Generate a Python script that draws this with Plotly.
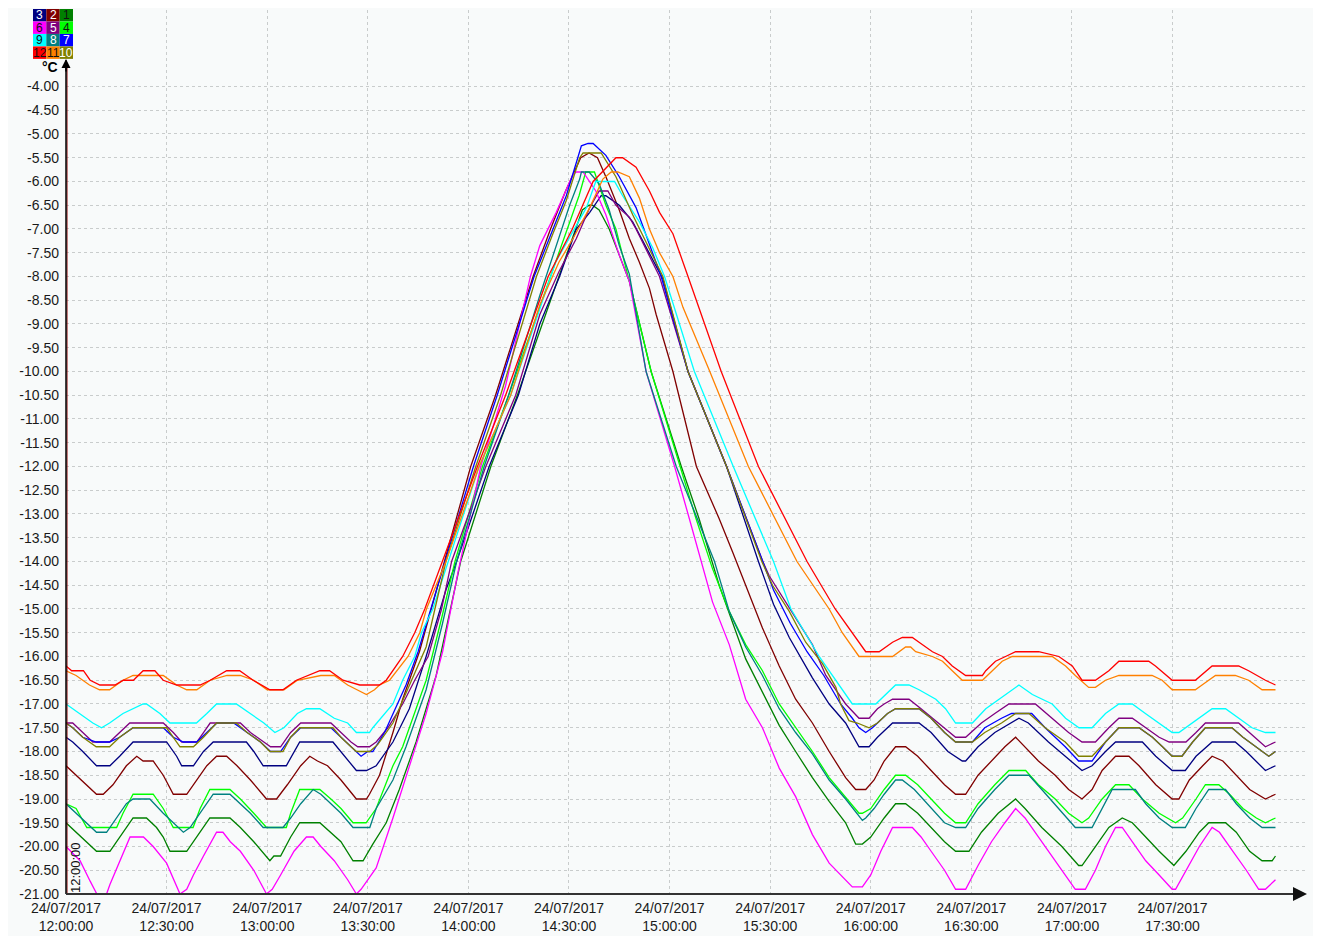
import plotly.graph_objects as go
import pandas as pd

# ---------------- data (minutes after 24/07/2017 12:00, value in °C) ----------------
DATE_LABEL = "24/07/2017"
START = "2017-07-24 12:00:00"
tick_times = ["12:00:00", "12:30:00", "13:00:00", "13:30:00", "14:00:00", "14:30:00",
              "15:00:00", "15:30:00", "16:00:00", "16:30:00", "17:00:00", "17:30:00"]
tick_minutes = [0, 30, 60, 90, 120, 150, 180, 210, 240, 270, 300, 330]
y_ticks = [-21.0, -20.5, -20.0, -19.5, -19.0, -18.5, -18.0, -17.5, -17.0, -16.5, -16.0,
           -15.5, -15.0, -14.5, -14.0, -13.5, -13.0, -12.5, -12.0, -11.5, -11.0, -10.5,
           -10.0, -9.5, -9.0, -8.5, -8.0, -7.5, -7.0, -6.5, -6.0, -5.5, -5.0, -4.5, -4.0]

s1 = [(0, -19.5), (3, -19.7), (6, -19.9), (9.1, -20.1), (13.1, -20.1), (16, -19.8), (20, -19.4), (24, -19.4),
      (27, -19.6), (29, -19.8), (31, -20.1), (36, -20.1), (39, -19.8), (42.9, -19.4), (48.9, -19.4), (52, -19.6),
      (56, -19.9), (60.8, -20.3), (62, -20.2), (64, -20.2), (67, -19.8), (69.7, -19.5), (75.7, -19.5), (79, -19.7),
      (82, -19.9), (85.6, -20.3), (88.6, -20.3),
      (91.5, -19.95), (95.5, -19.5), (99.4, -18.8), (104.4, -17.8), (110.4, -16.4), (117.7, -14.0), (126.7, -12.0),
      (134.6, -10.5), (147, -8.0), (152, -7.0), (154, -6.6), (156, -6.5), (157, -6.5),
      (159, -6.6), (162, -7.0), (165, -7.55), (168, -8.1), (174.5, -10.0), (183.5, -12.0), (188.8, -13.1),
      (194.8, -14.5), (202.7, -16.05), (207.7, -16.75), (212.7, -17.45), (217.6, -18.0), (222.6, -18.55),
      (227.6, -19.05), (232.5, -19.5), (235.5, -19.95), (237.5, -19.95),
      (240, -19.8), (244, -19.4), (247.4, -19.1), (250.4, -19.1), (254, -19.3), (258, -19.6), (262, -19.9),
      (265.3, -20.1), (269.3, -20.1), (273, -19.7), (278, -19.3), (283.2, -19.0), (286, -19.2), (291, -19.6),
      (297, -20.0), (302, -20.4), (303, -20.4), (307, -20.0), (311, -19.6), (315, -19.4), (318, -19.5),
      (322, -19.8), (326, -20.1), (330.4, -20.4), (334, -20.1), (338, -19.7), (340.8, -19.5), (345.8, -19.5),
      (349, -19.7), (353, -20.1), (356.7, -20.3), (359.7, -20.3), (360.7, -20.2)]

s2 = [(0, -18.3), (3, -18.5), (6, -18.7), (9.1, -18.9), (11.1, -18.9), (14, -18.7), (18, -18.3), (21.1, -18.1),
      (23, -18.2), (26, -18.2), (29, -18.5), (32, -18.9), (36, -18.9), (39, -18.6), (42, -18.3), (44.9, -18.1),
      (47.9, -18.1), (51, -18.3), (55, -18.6), (59.8, -19.0), (62.8, -19.0), (66, -18.7), (70, -18.3),
      (72.7, -18.1), (75, -18.2), (78, -18.3), (82, -18.6), (86.6, -19.0), (89.6, -19.0),
      (90.5, -18.9), (93.5, -18.5), (97.5, -17.6), (100.4, -16.9), (105.4, -15.9), (112.8, -14.0),
      (120.7, -12.0), (128.1, -10.5), (139.3, -8.0), (144.5, -7.0), (149, -6.2), (153.5, -5.5), (156, -5.4),
      (158.5, -5.5),
      (161, -5.9), (165, -6.6), (168, -7.2), (171, -7.7), (174, -8.25), (176, -8.8), (181, -10.0), (188, -12.0),
      (194.8, -13.1), (198.8, -13.8), (202.7, -14.5), (207.7, -15.4), (212.7, -16.2), (217.6, -16.9),
      (222.6, -17.4), (227.6, -18.0), (232.5, -18.55), (235.5, -18.8), (238.5, -18.8),
      (241, -18.6), (244, -18.2), (247.4, -17.9), (250.4, -17.9), (254, -18.1), (258, -18.4), (262, -18.7),
      (265.3, -18.9), (268.3, -18.9), (272, -18.5), (276, -18.2), (280, -17.9), (283.2, -17.7), (286, -17.9),
      (290, -18.2), (295, -18.5), (299, -18.8), (303, -19.0), (306, -18.8), (309, -18.4), (313, -18.1),
      (317, -18.1), (320, -18.3), (325, -18.7), (329.9, -19.0), (331.9, -19.0), (335, -18.6), (339, -18.3),
      (341.8, -18.1), (345, -18.2), (349, -18.5), (353, -18.8), (357.7, -19.0), (360.7, -18.9)]

s3 = [(0, -17.7), (2, -17.8), (5, -18.0), (9.1, -18.3), (13.1, -18.3), (16, -18.1), (20, -17.8), (30, -17.8),
      (33, -18.1), (34.5, -18.3), (38, -18.3), (41, -18.0), (43.9, -17.8), (53.8, -17.8), (56, -18.0),
      (58.8, -18.3), (65.7, -18.3), (68, -18.0), (69.7, -17.8), (79.6, -17.8), (83, -18.1), (86.6, -18.4),
      (89.6, -18.4),
      (92.5, -18.3), (97.5, -17.8), (102.4, -17.1), (107.4, -16.0), (113.3, -14.6), (116.5, -14.0),
      (126.2, -12.0), (134.9, -10.5), (141.3, -9.0), (147.2, -8.0), (152.2, -7.0), (156.2, -6.65),
      (159.6, -6.3), (161, -6.3),
      (165, -6.5), (169, -6.85), (174, -7.5), (178, -8.05), (185.5, -10.0), (197, -12.0), (206.5, -14.0),
      (211, -14.9), (215.7, -15.6), (222.6, -16.45), (227.6, -17.0), (232.5, -17.4), (236.5, -17.9),
      (239.5, -17.9),
      (242, -17.7), (246.5, -17.4), (254.4, -17.4), (258, -17.6), (263, -18.0), (267.3, -18.2), (268.3, -18.2),
      (272, -17.9), (277, -17.6), (284.2, -17.3), (287, -17.4), (293, -17.8), (298, -18.1), (303, -18.4),
      (306, -18.3), (310, -18.0), (313, -17.8), (321, -17.8), (325, -18.1), (329.9, -18.4), (333.8, -18.4),
      (337, -18.1), (341.8, -17.8), (348.7, -17.8), (352, -18.0), (357.7, -18.4), (360.7, -18.3)]

s4 = [(0, -19.1), (3, -19.2), (6.2, -19.6), (15.1, -19.6), (17, -19.3), (20, -18.9), (26, -18.9), (29, -19.2),
      (32, -19.6), (37.9, -19.6), (40, -19.2), (42.9, -18.8), (48.9, -18.8), (52, -19.0), (56, -19.3),
      (59.8, -19.6), (65.7, -19.6), (67, -19.3), (69.7, -18.8), (75.7, -18.8), (79, -19.0), (82, -19.2),
      (85.6, -19.5), (89.5, -19.5),
      (92.5, -19.2), (97.5, -18.3), (100.4, -17.9), (107.4, -16.5), (112, -15.2), (116, -14.0), (124.2, -12.0),
      (132, -10.5), (144.5, -8.0), (149.5, -7.0), (153, -6.3), (155, -5.8), (157.6, -5.8),
      (161, -6.5), (164, -7.0), (166, -7.55), (168, -8.1), (174.5, -10.0), (183, -12.0), (187.9, -13.1),
      (192.8, -14.15), (197.8, -15.05), (202.7, -15.75), (207.7, -16.3), (212.7, -17.0), (217.6, -17.5),
      (222.6, -18.0), (227.6, -18.55), (232.5, -18.95), (236.5, -19.3), (237.5, -19.3),
      (240, -19.2), (244, -18.8), (247.4, -18.5), (250.4, -18.5), (254, -18.7), (258, -19.0), (262, -19.3),
      (265.3, -19.5), (268.3, -19.5), (272, -19.1), (277, -18.7), (281.2, -18.4), (286.2, -18.4), (290, -18.7),
      (295, -19.0), (299, -19.3), (303, -19.5), (305, -19.4), (309, -19.0), (313, -18.7), (317, -18.7),
      (321, -19.0), (326, -19.3), (330.9, -19.5), (333, -19.4), (337, -19.0), (339.8, -18.7), (343.8, -18.7),
      (347, -18.9), (351, -19.2), (355, -19.4), (357.7, -19.5), (360.7, -19.4)]

s5 = [(0, -17.4), (2, -17.4), (5, -17.6), (8, -17.8), (13, -17.8), (16, -17.6), (19, -17.4), (29, -17.4),
      (32, -17.6), (34.5, -17.8), (39, -17.8), (41, -17.6), (43, -17.4), (52, -17.4), (55, -17.6), (59, -17.8),
      (61, -17.9), (64, -17.9), (67, -17.6), (70, -17.4), (79, -17.4), (82, -17.6), (85, -17.8), (87, -17.9),
      (90.5, -17.9),
      (92.5, -17.8), (96, -17.5), (100.4, -17.0), (104, -16.5), (108, -16.0), (112, -15.0), (115, -14.0),
      (125.2, -12.0), (134.1, -10.5), (141.3, -8.8), (147, -7.9), (152.2, -7.2), (156.2, -6.55), (159, -6.2),
      (161.6, -6.2),
      (164, -6.5), (168, -6.75), (170, -7.0), (177, -8.0), (185.5, -10.0), (197, -12.0), (207.8, -14.0),
      (209.7, -14.3), (217.6, -15.2), (222.6, -15.75), (226.6, -16.4), (232.5, -17.0), (236.5, -17.3),
      (239.5, -17.3),
      (242, -17.1), (244, -17.0), (246.5, -16.9), (251.4, -16.9), (255, -17.1), (260, -17.4), (265.3, -17.7),
      (268.3, -17.7), (273, -17.4), (277, -17.2), (281.2, -17.0), (289.1, -17.0), (294, -17.3), (299, -17.6),
      (303, -17.8), (307, -17.8), (311, -17.5), (314, -17.3), (318, -17.3), (322, -17.5), (326, -17.7),
      (329, -17.8), (334, -17.8), (337, -17.6), (339.8, -17.4), (349.7, -17.4), (353, -17.6), (357.7, -17.9),
      (360.7, -17.8)]

s6 = [(0, -20.0), (4.2, -20.3), (7.2, -20.73), (9.2, -21.0), (10.6, -21.1), (12.1, -21.0), (13.1, -20.8),
      (16.1, -20.3), (19.1, -19.8), (23.1, -19.8), (26, -20.0), (30, -20.35), (34, -21.0), (36, -20.9),
      (38, -20.6), (41, -20.2), (44.9, -19.7), (46.8, -19.7), (49, -19.9), (52, -20.1), (56, -20.5),
      (59.8, -21.0), (61.5, -20.9), (64, -20.6), (68, -20.1), (71.7, -19.8), (73.7, -19.8), (76, -20.0),
      (80, -20.3), (84, -20.7), (86.6, -21.0), (88, -20.9), (90.5, -20.65),
      (92.5, -20.45), (97.5, -19.4), (102.4, -18.3), (107.4, -17.2), (112.3, -15.9), (117, -14.2),
      (123.7, -12.0), (131.1, -10.3), (138.5, -8.0), (141.3, -7.35), (146.2, -6.65), (151.2, -5.85),
      (152.2, -5.8), (154.2, -5.8),
      (158, -6.2), (161, -6.7), (165, -7.55), (168, -8.1), (173, -10.0), (181.5, -12.0), (185.9, -13.1),
      (189.4, -14.0), (192.8, -14.85), (197.8, -15.75), (202.7, -16.9), (207.7, -17.5), (212.7, -18.35),
      (217.6, -18.95), (222.6, -19.75), (227.6, -20.35), (234.5, -20.85), (237.5, -20.85),
      (240, -20.6), (243, -20.1), (246.5, -19.6), (252.4, -19.6), (255, -19.8), (258, -20.1), (262, -20.5),
      (265.3, -20.9), (268.3, -20.9), (272, -20.4), (276, -19.9), (280, -19.5), (283.2, -19.2), (286, -19.4),
      (290, -19.8), (295, -20.3), (301, -20.9), (304, -20.9), (307, -20.5), (310, -20.0), (313, -19.6),
      (315, -19.6), (318, -19.9), (322, -20.3), (326, -20.6), (329.9, -20.9), (330.9, -20.9), (334, -20.5),
      (338, -20.0), (341.8, -19.6), (344, -19.7), (348, -20.1), (352, -20.5), (355.7, -20.9), (357.7, -20.9),
      (360.7, -20.7)]

s7 = [(0, -17.4), (2, -17.5), (5, -17.7), (9, -17.8), (13, -17.8), (16, -17.7), (20, -17.5), (29, -17.5),
      (32, -17.7), (35, -17.8), (39, -17.8), (42, -17.6), (45, -17.4), (50, -17.4), (54, -17.6), (58, -17.8),
      (61, -18.0), (64, -18.0), (67, -17.7), (70, -17.5), (79, -17.5), (82, -17.7), (85, -17.9), (88, -18.1),
      (90, -18.0), (91.5, -18.0),
      (95, -17.6), (101.4, -16.6), (105, -15.9), (113, -14.0), (121.5, -12.0), (128.6, -10.5), (139.6, -8.0),
      (141.3, -7.7), (145.2, -7.0), (149.2, -6.3), (152.2, -5.6), (153.7, -5.25), (155.7, -5.2), (157.2, -5.2),
      (161, -5.45), (165, -5.9), (170, -6.55), (174, -7.3), (177.5, -8.0), (185.5, -10.0), (197, -12.0),
      (207.8, -14.0), (211, -14.6), (216, -15.3), (221, -15.9), (226, -16.4), (231, -17.0), (234.5, -17.3),
      (236.5, -17.5), (238.5, -17.6), (240.5, -17.5),
      (242, -17.4), (245, -17.2), (247.4, -17.1), (254.4, -17.1), (258, -17.3), (262, -17.6), (265.3, -17.8),
      (270.3, -17.8), (274, -17.5), (279, -17.3), (282, -17.2), (288, -17.2), (292, -17.5), (298, -17.9),
      (302, -18.2), (306, -18.2), (310, -17.8), (314, -17.5), (320, -17.5), (324, -17.7), (327, -17.9),
      (329.9, -18.1), (332.8, -18.1), (336, -17.8), (339.8, -17.5), (347.7, -17.5), (351, -17.7), (355, -17.9),
      (358.7, -18.1), (360.7, -18.0)]

s8 = [(0, -19.1), (3, -19.3), (6, -19.5), (9.1, -19.7), (12.1, -19.7), (15, -19.4), (18, -19.1), (20, -19.0),
      (25, -19.0), (29, -19.3), (32, -19.5), (35, -19.7), (37, -19.6), (40, -19.3), (43.9, -18.9), (48.9, -18.9),
      (52, -19.1), (55, -19.3), (58.8, -19.6), (64.7, -19.6), (67, -19.4), (70, -19.1), (73.7, -18.8),
      (76, -18.9), (79, -19.1), (82, -19.3), (85.6, -19.6), (90.6, -19.6),
      (92.5, -19.2), (97.5, -18.6), (101.4, -17.9), (107.4, -16.7), (112.3, -15.3), (116.5, -14.0),
      (124.7, -12.0), (132, -10.5), (141.3, -8.4), (146.2, -7.35), (150.2, -6.5), (153.2, -5.95),
      (153.7, -5.8), (156, -5.8),
      (159, -6.05), (162, -6.6), (165, -7.35), (168, -7.95), (170, -8.8), (173, -10.0), (182, -12.0),
      (193.4, -14.0), (197.8, -15.05), (202.7, -15.8), (207.7, -16.4), (212.7, -17.1), (217.6, -17.6),
      (222.6, -18.05), (227.6, -18.6), (232.5, -19.0), (237.5, -19.45), (238.5, -19.4),
      (241, -19.2), (244, -18.9), (247.4, -18.6), (249.4, -18.6), (253, -18.8), (258, -19.2), (262, -19.5),
      (265.3, -19.6), (268.3, -19.6), (272, -19.2), (277, -18.8), (281.2, -18.5), (287.2, -18.5), (291, -18.8),
      (296, -19.2), (301, -19.6), (306, -19.6), (309, -19.2), (312, -18.8), (318.9, -18.8), (322, -19.1),
      (326, -19.4), (329.9, -19.6), (333.8, -19.6), (337, -19.2), (340.8, -18.8), (345.8, -18.8), (349, -19.1),
      (353, -19.4), (356.7, -19.6), (360.7, -19.6)]

s9 = [(0, -17.0), (4, -17.2), (8, -17.4), (10.6, -17.5), (13, -17.4), (17, -17.2), (20, -17.1), (23, -17.0),
      (24, -17.0), (28, -17.2), (31, -17.4), (38.9, -17.4), (42, -17.2), (44.9, -17.0), (50.8, -17.0),
      (55, -17.2), (59, -17.4), (62.3, -17.6), (65, -17.5), (69, -17.2), (71.7, -17.1), (75.7, -17.1),
      (80, -17.3), (84, -17.4), (86.6, -17.6), (90.5, -17.6),
      (91.5, -17.5), (97.5, -17.0), (100.4, -16.5), (104, -16.0), (106, -15.5), (109.4, -15.0), (114, -14.0),
      (123.2, -12.0), (132.6, -10.5), (144.6, -8.0), (146, -7.7), (151.2, -7.05), (155.2, -6.55), (158, -6.0),
      (163.6, -6.0),
      (166, -6.3), (171, -6.85), (175, -7.4), (178.5, -8.0), (187.4, -10.0), (199, -12.0), (211, -14.0),
      (216.2, -15.0), (224.6, -16.0), (229.6, -16.5), (234.5, -17.0),
      (241.5, -17.0), (244.5, -16.8), (247.4, -16.6), (251.4, -16.6), (254.4, -16.7), (259.4, -16.9),
      (262.3, -17.1), (265.3, -17.4), (270.3, -17.4), (274.3, -17.1), (278.2, -16.9), (284.2, -16.6),
      (288.2, -16.8), (294.1, -17.0), (298.1, -17.3), (302.1, -17.5), (306, -17.5), (310, -17.2), (314, -17.0),
      (318, -17.0), (321.9, -17.2), (325.9, -17.4), (329.9, -17.6), (331.9, -17.6), (335.8, -17.4),
      (341.8, -17.1), (345.8, -17.1), (349.7, -17.3), (353.7, -17.5), (357.7, -17.6), (360.7, -17.6)]

s10 = [(0, -17.4), (2, -17.5), (5, -17.7), (9, -17.9), (13, -17.9), (16, -17.7), (20, -17.5), (30, -17.5),
       (32, -17.7), (34, -17.9), (38, -17.9), (41, -17.7), (44.9, -17.4), (50.8, -17.4), (54, -17.6),
       (58, -17.8), (60.8, -18.0), (64.7, -18.0), (67, -17.7), (69.7, -17.5), (79.6, -17.5), (82, -17.7),
       (85, -17.9), (86.6, -18.0), (90.6, -18.0),
       (93, -17.85), (97.5, -17.4), (102.4, -16.6), (107.4, -15.8), (113.3, -14.0), (122.2, -12.0),
       (129.6, -10.5), (140.3, -8.0), (145.2, -7.1), (149.2, -6.4), (153.2, -5.5), (154.2, -5.4), (159.6, -5.4),
       (164, -5.9), (169, -6.7), (175, -7.55), (178, -8.0), (185.5, -10.0), (197, -12.0), (207.5, -14.0),
       (210.7, -14.5), (215.7, -15.05), (220.6, -15.7), (225.6, -16.15), (229.6, -16.65), (231, -17.0),
       (233.5, -17.35), (236, -17.4), (239.5, -17.5),
       (242, -17.4), (245, -17.2), (247.4, -17.1), (254.4, -17.1), (258, -17.3), (262, -17.6), (265.3, -17.8),
       (270.3, -17.8), (274, -17.6), (279, -17.4), (283.2, -17.2), (287.2, -17.2), (292, -17.5), (298, -17.8),
       (302, -18.1), (306, -18.1), (310, -17.8), (314, -17.5), (320, -17.5), (324, -17.7), (327, -17.9),
       (329.9, -18.1), (332.8, -18.1), (336, -17.8), (339.8, -17.5), (347.7, -17.5), (351, -17.7),
       (355, -17.9), (358.7, -18.1), (360.7, -18.0)]

s11 = [(0, -16.3), (3, -16.4), (7, -16.6), (10, -16.7), (13, -16.7), (17, -16.5), (20, -16.4), (29, -16.4),
       (33, -16.6), (36, -16.7), (39, -16.7), (43, -16.5), (48, -16.4), (52, -16.4), (56, -16.5), (60, -16.7),
       (65, -16.7), (69, -16.5), (76, -16.4), (80, -16.4), (84, -16.6), (89.6, -16.8), (92, -16.7),
       (93.5, -16.6), (96.5, -16.5),
       (102, -16.0), (105.5, -15.5), (107.5, -15.0), (113.3, -14.0), (123.2, -12.0), (132.6, -10.5),
       (141.3, -8.6), (147, -7.7), (151.2, -7.2), (156.2, -6.55), (160.1, -5.95), (162.6, -5.8), (164.6, -5.8),
       (168, -5.9), (171, -6.35), (174, -7.0), (177, -7.5), (181, -8.0), (184, -8.65), (192, -10.0),
       (203.5, -12.0), (218, -14.0), (227.6, -15.0), (231.5, -15.5), (236.5, -16.0),
       (246.5, -16.0), (248.4, -15.9), (250.4, -15.8), (251.9, -15.8), (253.4, -15.9), (258.4, -16.0),
       (261.4, -16.1), (264.3, -16.3), (267.3, -16.5), (273.3, -16.5), (276.2, -16.3), (279.2, -16.1),
       (282.2, -16.0), (294.1, -16.0), (298.1, -16.2), (301, -16.4), (305, -16.65), (307, -16.65), (310, -16.5),
       (314, -16.4), (323.9, -16.4), (326.9, -16.5), (329.9, -16.7), (336.8, -16.7), (338.8, -16.6),
       (342.8, -16.4), (348.7, -16.4), (352.7, -16.5), (356.7, -16.7), (360.7, -16.7)]

s12 = [(0, -16.2), (1.7, -16.3), (5.2, -16.3), (7.2, -16.5), (10.1, -16.6), (14.6, -16.6), (17.1, -16.5),
       (20.1, -16.5), (23, -16.3), (26.5, -16.3), (29, -16.5), (33, -16.6), (40, -16.6), (43, -16.5),
       (47.9, -16.3), (51.8, -16.3), (55.8, -16.5), (60.8, -16.7), (64.7, -16.7), (68.7, -16.5), (75.7, -16.3),
       (78.6, -16.3), (82.6, -16.5), (87.6, -16.6), (93.5, -16.6), (95.5, -16.5),
       (100.4, -16.0), (104, -15.5), (107, -15.0), (112.3, -14.0), (122.7, -12.0), (131.1, -10.5),
       (143.8, -8.0), (151, -7.0), (154.2, -6.5), (157.2, -6.0), (164, -5.5), (166, -5.5),
       (170, -5.7), (174, -6.2), (177, -6.65), (181, -7.1), (185.5, -8.0), (195.4, -10.0), (206.5, -12.0),
       (221, -14.0), (229.4, -15.0), (234.4, -15.5), (238.5, -15.9), (242.5, -15.9),
       (246.5, -15.7), (249.4, -15.6), (252.4, -15.6), (254.4, -15.7), (258.4, -15.9), (261.4, -16.0),
       (264.3, -16.2), (268.3, -16.4), (273.3, -16.4), (274.3, -16.3), (277.2, -16.1), (280.2, -16.0),
       (283.2, -15.9), (290.1, -15.9), (296.1, -16.0), (300.1, -16.2), (303, -16.5), (307, -16.5), (311, -16.3),
       (314, -16.1), (322.9, -16.1), (324.9, -16.2), (329.9, -16.5), (336.8, -16.5), (341.8, -16.2),
       (349.7, -16.2), (352.7, -16.3), (357.7, -16.5), (360.7, -16.6)]

series_names = ["1", "2", "3", "4", "5", "6", "7", "8", "9", "10", "11", "12"]
series_colors = ["#008000", "#800000", "#000080", "#00ff00", "#800080", "#ff00ff",
                 "#0000ff", "#008080", "#00ffff", "#808000", "#ff8000", "#ff0000"]
series_data = [s1, s2, s3, s4, s5, s6, s7, s8, s9, s10, s11, s12]

# ---------------- layout geometry (reference pixel positions) ----------------
PAGE_OFF = 8                                 # browser default body margin
W, H = 1321 - PAGE_OFF, 936 - PAGE_OFF
PL, PR, PT, PB = 66, 1307, 10, 896           # plot area in page pixels
X_SPAN_MIN = 370.1                           # minutes covered by the plot width
Y_MIN, Y_MAX = -21.0, -2.39
FONT = "Arial, Liberation Sans, sans-serif"
BG = "#f8fafa"

base = pd.Timestamp(START)


def tmin(m):
    return base + pd.Timedelta(minutes=m)


def fx(px):
    return (px - PL) / (PR - PL)


def fy(py):
    return (PB - py) / (PB - PT)


fig = go.Figure()
for name, color, pts in zip(series_names, series_colors, series_data):
    fig.add_trace(go.Scatter(
        x=[tmin(p[0]) for p in pts], y=[p[1] for p in pts],
        mode="lines", name=name, showlegend=False,
        line=dict(color=color, width=1.3), hoverinfo="skip"))

shapes = []
annotations = []

# cursor line at 12:00 (dark red)
shapes.append(dict(type="line", xref="paper", yref="y", x0=fx(67), x1=fx(67), y0=Y_MIN, y1=-3.5,
                   line=dict(color="#8b0000", width=1)))
# y axis line + arrow
shapes.append(dict(type="line", xref="paper", yref="y", x0=0, x1=0, y0=Y_MIN, y1=-3.45,
                   line=dict(color="#000000", width=1.5)))
annotations.append(dict(xref="paper", yref="y", x=0, y=-3.42, ax=0, ay=14, text="",
                        showarrow=True, arrowhead=2, arrowsize=1.2, arrowwidth=1.5, arrowcolor="#000000"))
# x axis line + arrow
shapes.append(dict(type="line", xref="paper", yref="paper", x0=0, x1=fx(1300), y0=0, y1=0,
                   line=dict(color="#333333", width=2)))
annotations.append(dict(xref="paper", yref="paper", x=fx(1307), y=0, ax=-14, ay=0, text="",
                        showarrow=True, arrowhead=2, arrowsize=1.4, arrowwidth=2, arrowcolor="#111111"))

# unit label
annotations.append(dict(xref="paper", yref="paper", x=fx(60), y=fy(67), xanchor="right", yanchor="middle",
                        text="<b>°C</b>", showarrow=False, font=dict(family=FONT, size=14, color="#000000")))
# rotated cursor time label
annotations.append(dict(xref="paper", yref="paper", x=fx(75), y=fy(870), xanchor="center", yanchor="middle",
                        text="12:00:00", textangle=-90, showarrow=False,
                        font=dict(family=FONT, size=13, color="#111111")))

# legend grid (3 columns x 4 rows)
legend_rows = [["3", "2", "1"], ["6", "5", "4"], ["9", "8", "7"], ["12", "11", "10"]]
light_text = {"3", "2", "5", "8", "7", "10"}
col_x = [33, 46.3, 59.7, 73]
row_y = [9, 21.5, 34, 46.5, 59]
for r, row in enumerate(legend_rows):
    for c, nm in enumerate(row):
        col = series_colors[series_names.index(nm)]
        shapes.append(dict(type="rect", xref="paper", yref="paper",
                           x0=fx(col_x[c]), x1=fx(col_x[c + 1]), y0=fy(row_y[r + 1]), y1=fy(row_y[r]),
                           fillcolor=col, line=dict(width=0)))
        annotations.append(dict(xref="paper", yref="paper",
                                x=fx((col_x[c] + col_x[c + 1]) / 2), y=fy((row_y[r] + row_y[r + 1]) / 2),
                                xanchor="center", yanchor="middle", text=nm, showarrow=False,
                                font=dict(family=FONT, size=12,
                                          color="#ffffff" if nm in light_text else "#111111")))

fig.update_layout(
    width=W, height=H,
    margin=dict(l=PL - PAGE_OFF, r=(W + PAGE_OFF) - PR, t=PT - PAGE_OFF, b=(H + PAGE_OFF) - PB, pad=0),
    paper_bgcolor=BG, plot_bgcolor=BG,
    showlegend=False,
    shapes=shapes, annotations=annotations,
    xaxis=dict(
        type="date", range=[tmin(0), tmin(X_SPAN_MIN)],
        tickmode="array", tickvals=[tmin(m) for m in tick_minutes],
        ticktext=[f"{DATE_LABEL}<br>{t}" for t in tick_times],
        showgrid=True, gridcolor="#c9cccc", griddash="dot", gridwidth=1,
        showline=False, zeroline=False, ticks="", ticklabelstandoff=4,
        tickfont=dict(family=FONT, size=14, color="#1a1a1a"), fixedrange=True),
    yaxis=dict(
        range=[Y_MIN, Y_MAX], tickmode="array", tickvals=y_ticks,
        ticktext=[f"{v:.2f}" for v in y_ticks],
        showgrid=True, gridcolor="#c9cccc", griddash="dot", gridwidth=1,
        showline=False, zeroline=False, ticks="", ticklabelstandoff=6,
        tickfont=dict(family=FONT, size=14, color="#1a1a1a"), fixedrange=True),
)

fig.write_html("out.html")
